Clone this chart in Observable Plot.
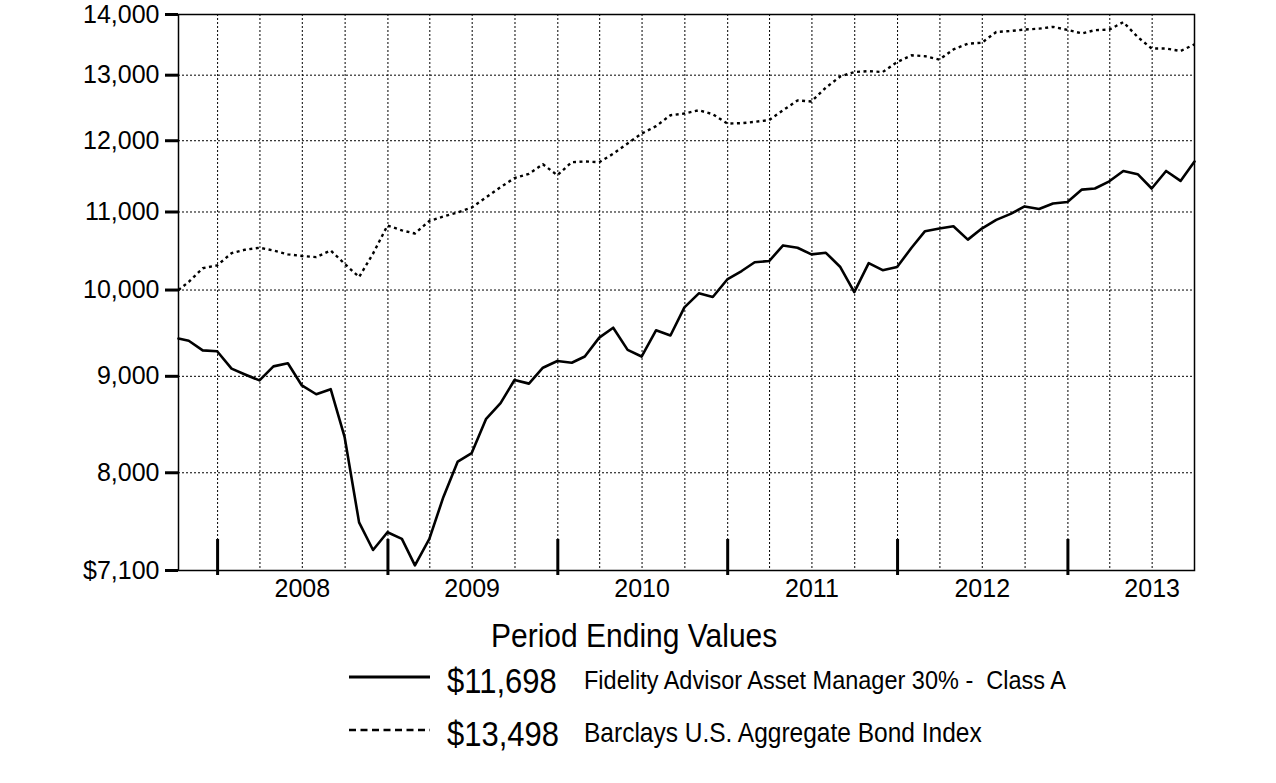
<!DOCTYPE html>
<html>
<head>
<meta charset="utf-8">
<script src="https://cdn.jsdelivr.net/npm/d3@7"></script>
<script src="https://cdn.jsdelivr.net/npm/@observablehq/plot@0.6"></script>
<style>
  html, body { margin: 0; padding: 0; background: #fff; }
  #wrap { position: relative; width: 1276px; height: 783px; font-family: "Liberation Sans", Arial, sans-serif; color: #000; }
  .t { position: absolute; white-space: pre; line-height: 1; }
  .ln { position: absolute; }
</style>
</head>
<body>
<div id="wrap"><div id="chart"></div></div>
<script>
// ---- data ----
const dates = [
  "2007-10-09","2007-10-31","2007-11-30","2007-12-31",
  "2008-01-31","2008-02-29","2008-03-31","2008-04-30","2008-05-31","2008-06-30","2008-07-31","2008-08-31","2008-09-30","2008-10-31","2008-11-30","2008-12-31",
  "2009-01-31","2009-02-28","2009-03-31","2009-04-30","2009-05-31","2009-06-30","2009-07-31","2009-08-31","2009-09-30","2009-10-31","2009-11-30","2009-12-31",
  "2010-01-31","2010-02-28","2010-03-31","2010-04-30","2010-05-31","2010-06-30","2010-07-31","2010-08-31","2010-09-30","2010-10-31","2010-11-30","2010-12-31",
  "2011-01-31","2011-02-28","2011-03-31","2011-04-30","2011-05-31","2011-06-30","2011-07-31","2011-08-31","2011-09-30","2011-10-31","2011-11-30","2011-12-31",
  "2012-01-31","2012-02-29","2012-03-31","2012-04-30","2012-05-31","2012-06-30","2012-07-31","2012-08-31","2012-09-30","2012-10-31","2012-11-30","2012-12-31",
  "2013-01-31","2013-02-28","2013-03-31","2013-04-30","2013-05-31","2013-06-30","2013-07-31","2013-08-31","2013-09-30"
];
const fund = [
  9425, 9400, 9290, 9280,
  9085, 9020, 8955, 9110, 9145, 8900, 8805, 8860, 8355, 7530, 7280, 7440,
  7380, 7145, 7380, 7765, 8110, 8195, 8545, 8710, 8960, 8920, 9095, 9170,
  9150, 9220, 9435, 9550, 9295, 9220, 9520, 9460, 9790, 9960, 9915, 10130,
  10235, 10345, 10360, 10560, 10530, 10445, 10465, 10285, 9975, 10335, 10245, 10285,
  10530, 10745, 10780, 10810, 10635, 10780, 10895, 10975, 11075, 11040, 11115, 11135,
  11305, 11320, 11420, 11565, 11520, 11320, 11565, 11425, 11698
];
const bond = [
  10000, 10100, 10270, 10305,
  10460, 10505, 10530, 10495, 10445, 10425, 10410, 10495, 10325, 10160, 10455, 10820,
  10755, 10715, 10880, 10940, 10995, 11060, 11200, 11340, 11465, 11525, 11660, 11505,
  11690, 11700, 11690, 11810, 11960, 12105, 12215, 12380, 12405, 12455, 12395, 12255,
  12260, 12280, 12305, 12455, 12605, 12590, 12805, 12980, 13050, 13065, 13050, 13210,
  13320, 13305, 13250, 13415, 13510, 13525, 13705, 13720, 13745, 13760, 13790, 13740,
  13680, 13735, 13745, 13870, 13620, 13430, 13430, 13390, 13498
];
const yTicks = [7100, 8000, 9000, 10000, 11000, 12000, 13000, 14000];
const years = ["2008", "2009", "2010", "2011", "2012", "2013"];
const seriesNames = ["Fidelity Advisor Asset Manager 30% -  Class A", "Barclays U.S. Aggregate Bond Index"];
const endValues = ["$11,698", "$13,498"];
const legendTitle = "Period Ending Values";

// ---- build ----
const parse = d3.utcParse("%Y-%m-%d");
const rows = dates.map((d, i) => ({date: parse(d), fund: fund[i], bond: bond[i]}));
const yearStarts = years.map(y => parse(y + "-01-01"));
const yearMids = years.map(y => parse(y + "-07-01"));
const quarters = d3.utcMonth.every(3).range(parse("2008-01-01"), parse("2013-08-01"));
const fmt = d3.format(",");

const chart = Plot.plot({
  width: 1276,
  height: 610,
  marginLeft: 178,
  marginRight: 82,
  marginTop: 14,
  marginBottom: 40,
  style: {fontFamily: "'Liberation Sans', Arial, sans-serif", color: "#000", background: "#fff", overflow: "visible"},
  x: {type: "utc", domain: [rows[0].date, rows[rows.length - 1].date], label: null},
  y: {type: "log", domain: [7100, 14000], label: null},
  marks: [
    Plot.gridY(yTicks.slice(1, -1), {stroke: "#000", strokeOpacity: 1, strokeWidth: 1, strokeDasharray: "2,2"}),
    Plot.gridX(quarters, {stroke: "#000", strokeOpacity: 1, strokeWidth: 1, strokeDasharray: "2,2"}),
    Plot.frame({stroke: "#000", strokeWidth: 1.5}),
    Plot.axisY(yTicks, {
      tickSize: 13, strokeWidth: 3, tickPadding: 6, fontSize: 25,
      tickFormat: d => (d === yTicks[0] ? "$" : "") + fmt(d)
    }),
    Plot.axisX(yearMids, {tickSize: 0, tickPadding: 9, fontSize: 25, tickFormat: d => d3.utcFormat("%Y")(d)}),
    Plot.ruleX(yearStarts, {stroke: "#000", strokeWidth: 3, insetTop: 525, insetBottom: -5}),
    Plot.lineY(rows, {x: "date", y: "bond", stroke: "#000", strokeWidth: 2.4, strokeDasharray: "3,3.5", strokeLinecap: "butt"}),
    Plot.lineY(rows, {x: "date", y: "fund", stroke: "#000", strokeWidth: 2.6})
  ]
});
document.getElementById("chart").appendChild(chart);

// ---- legend (below the SVG) ----
const wrap = document.getElementById("wrap");
function addText(txt, left, baseline, size, extra) {
  const el = document.createElement("div");
  el.className = "t";
  el.textContent = txt;
  el.style.left = left + "px";
  el.style.top = (baseline - 0.8465 * size) + "px";
  el.style.fontSize = size + "px";
  if (extra) Object.assign(el.style, extra);
  wrap.appendChild(el);
}
function addLine(y, dashed) {
  const ns = "http://www.w3.org/2000/svg";
  const s = document.createElementNS(ns, "svg");
  s.setAttribute("class", "ln");
  s.setAttribute("width", 84); s.setAttribute("height", 6);
  s.style.left = "348px"; s.style.top = (y - 3) + "px";
  const l = document.createElementNS(ns, "line");
  l.setAttribute("x1", 1); l.setAttribute("x2", 82); l.setAttribute("y1", 3); l.setAttribute("y2", 3);
  l.setAttribute("stroke", "#000"); l.setAttribute("stroke-width", dashed ? 2.5 : 3);
  if (dashed) l.setAttribute("stroke-dasharray", "7,4.5");
  s.appendChild(l);
  wrap.appendChild(s);
}
const stretch = {transform: "scaleY(1.12)", transformOrigin: "0 85%"};
addText(legendTitle, 491, 647, 30, stretch);
addLine(677, false);
addText(endValues[0], 447, 693, 31, stretch);
addText(seriesNames[0], 584, 690, 23.5, stretch);
addLine(730, true);
addText(endValues[1], 447, 746, 31, stretch);
addText(seriesNames[1], 584, 743, 24.5, stretch);
</script>
</body>
</html>
